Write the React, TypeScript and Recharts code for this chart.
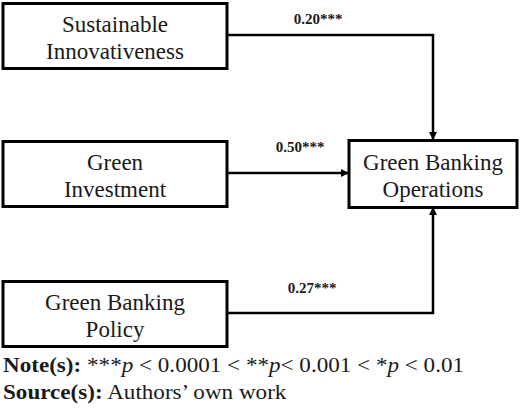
import React from 'react';
import { ScatterChart, Scatter, XAxis, YAxis } from 'recharts';

// constructs of the model (predictors first, outcome last)
const constructs = [
    ['Sustainable', 'Innovativeness'],
    ['Green', 'Investment'],
    ['Green Banking', 'Policy'],
    ['Green Banking', 'Operations'],
];

// standardised path coefficients, predictor -> outcome
const coefficients = ['0.20***', '0.50***', '0.27***'];

const noteText = '***p < 0.0001 < **p< 0.001 < *p < 0.01';
const sourceText = 'Authors\u2019 own work';

// diagram layout in chart units (domain 0..520 x 0..410)
const nodeCenters = [
    { x: 115, y: 36 },
    { x: 115, y: 174 },
    { x: 115, y: 314 },
    { x: 433, y: 174 },
];
const pathRoutes = [
    [{ x: 227, y: 35 }, { x: 433, y: 35 }, { x: 433, y: 140 }],
    [{ x: 227, y: 173 }, { x: 349, y: 173 }],
    [{ x: 227, y: 313 }, { x: 433, y: 313 }, { x: 433, y: 207 }],
];
const labelAnchors = [
    { x: 318, y: 24 },
    { x: 300, y: 152 },
    { x: 312, y: 293 },
];

const W = 520;
const H = 410;
const SERIF = 'Liberation Serif';

const nodes = constructs.map((lines, i) => ({ ...nodeCenters[i], lines, outcome: i === 3 }));
const labels = coefficients.map((text, i) => ({ ...labelAnchors[i], text }));

const BoxShape = (props: any) => {
    const { cx, cy, payload } = props;
    const w = payload.outcome ? 168 : 224;
    const h = payload.outcome ? 67 : 65;
    return (
        <g>
            <rect x={cx - w / 2} y={cy - h / 2} width={w} height={h} fill="#fff" stroke="#000" strokeWidth={3} />
            {payload.lines.map((line: string, i: number) => (
                <text
                    key={i}
                    x={cx}
                    y={cy - 4 + i * 27}
                    textAnchor="middle"
                    style={{ fontFamily: SERIF, fontSize: 23 }}
                    fill="#1a1a1a"
                >
                    {line}
                </text>
            ))}
        </g>
    );
};

const LabelShape = (props: any) => {
    const { cx, cy, payload } = props;
    return (
        <text
            x={cx}
            y={cy}
            textAnchor="middle"
            style={{ fontFamily: SERIF, fontSize: 15, fontWeight: 'bold' }}
            fill="#1a1a1a"
        >
            {payload.text}
        </text>
    );
};

const NoShape = () => <g />;

const footStyle: React.CSSProperties = {
    position: 'absolute',
    left: 3,
    fontFamily: SERIF,
    fontSize: 21,
    lineHeight: '21px',
    whiteSpace: 'nowrap',
    transform: 'scaleX(1.1)',
    transformOrigin: 'left',
    color: '#1a1a1a',
};

export default function App() {
    return (
        <div style={{ position: 'relative', width: W, height: H, background: '#fff' }}>
            <style>{'body{margin:0}'}</style>
            <ScatterChart width={W} height={H} margin={{ top: 0, right: 0, bottom: 0, left: 0 }}>
                <defs>
                    <marker
                        id="arrowHead"
                        markerWidth={8}
                        markerHeight={8}
                        refX={8}
                        refY={4}
                        orient="auto"
                        markerUnits="userSpaceOnUse"
                    >
                        <path d="M0,0 L8,4 L0,8 Z" fill="#000" />
                    </marker>
                </defs>
                <XAxis type="number" dataKey="x" domain={[0, W]} hide />
                <YAxis type="number" dataKey="y" domain={[0, H]} reversed hide />
                {pathRoutes.map((route, i) => (
                    <Scatter
                        key={i}
                        data={route}
                        shape={NoShape}
                        line={{ stroke: '#000', strokeWidth: 2.5, markerEnd: 'url(#arrowHead)' }}
                        lineType="joint"
                        isAnimationActive={false}
                    />
                ))}
                <Scatter data={nodes} shape={BoxShape} isAnimationActive={false} />
                <Scatter data={labels} shape={LabelShape} isAnimationActive={false} />
            </ScatterChart>
            <div style={{ ...footStyle, top: 355 }}>
                <b>Note(s):</b>{' '}
                {noteText.split('p').map((part, i, arr) => (
                    <React.Fragment key={i}>
                        {part}
                        {i < arr.length - 1 && <i>p</i>}
                    </React.Fragment>
                ))}
            </div>
            <div style={{ ...footStyle, top: 382 }}>
                <b>Source(s):</b> {sourceText}
            </div>
        </div>
    );
}
